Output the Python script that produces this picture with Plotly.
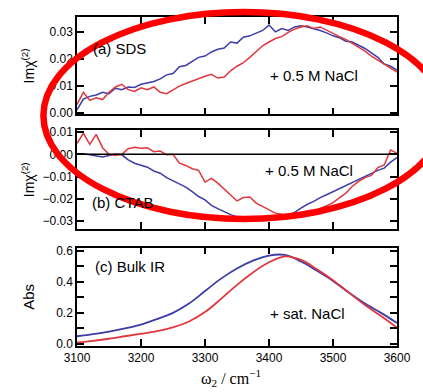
import plotly.graph_objects as go

x10 = list(range(3100, 3601, 10))
x25 = list(range(3100, 3601, 25))

sds_blue = [0.001, 0.005, 0.006, 0.0065, 0.0075, 0.007, 0.009, 0.0085, 0.0095, 0.0093,
            0.0105, 0.011, 0.0115, 0.0125, 0.014, 0.0145, 0.017, 0.0175, 0.019, 0.0205,
            0.021, 0.0225, 0.0235, 0.024, 0.0262, 0.0258, 0.028, 0.0285, 0.0295, 0.0305,
            0.0325, 0.0300, 0.0312, 0.0305, 0.0318, 0.0322, 0.0318, 0.0312, 0.0305, 0.0296,
            0.0285, 0.0278, 0.0265, 0.0262, 0.0250, 0.0238, 0.0222, 0.0205, 0.018, 0.0172,
            0.0158]
sds_red = [0.003, 0.0075, 0.0045, 0.0055, 0.0048, 0.0075, 0.0095, 0.0105, 0.0085, 0.0078,
           0.0092, 0.0085, 0.0095, 0.0075, 0.007, 0.0085, 0.0098, 0.0108, 0.0118, 0.0128,
           0.0135, 0.0142, 0.0128, 0.0132, 0.0155, 0.0172, 0.0185, 0.0205, 0.0225, 0.0248,
           0.0262, 0.0275, 0.0282, 0.0298, 0.0310, 0.0318, 0.0322, 0.0312, 0.0318, 0.0305,
           0.0295, 0.0282, 0.0272, 0.0258, 0.0242, 0.0228, 0.021, 0.0195, 0.018, 0.0165,
           0.0150]
ctab_blue = [0.0, 0.0003, -0.0002, -0.0008, -0.0012, -0.0005, 0.0002, -0.0002, -0.0025, -0.004,
             -0.0048, -0.0058, -0.0075, -0.0085, -0.0105, -0.012, -0.0135, -0.0148, -0.0168, -0.019,
             -0.0205, -0.023, -0.0245, -0.026, -0.0272, -0.0282, -0.0288, -0.029, -0.0285, -0.029,
             -0.0292, -0.029, -0.0288, -0.0278, -0.0262, -0.0242, -0.0225, -0.0212, -0.0195, -0.0182,
             -0.0168, -0.0155, -0.0142, -0.0125, -0.0112, -0.0098, -0.0085, -0.0072, -0.0062, -0.0035,
             -0.0015]
ctab_red = [0.005, 0.0095, 0.0045, 0.009, 0.003, 0.0, -0.0005, 0.0, 0.0025, 0.0032,
            0.0028, 0.003, 0.0012, 0.0015, -0.0002, 0.0, -0.004, -0.005, -0.0065, -0.0072,
            -0.0125, -0.0108, -0.013, -0.0158, -0.0185, -0.021, -0.0195, -0.0192, -0.022, -0.0235,
            -0.025, -0.0265, -0.027, -0.0278, -0.028, -0.0272, -0.027, -0.0258, -0.0245, -0.0232,
            -0.0218, -0.0198, -0.0175, -0.0145, -0.0122, -0.0105, -0.0095, -0.006, -0.0048, 0.002,
            0.0005]
ir_blue = [0.05, 0.063, 0.08, 0.10, 0.125, 0.16, 0.20, 0.26, 0.34, 0.42, 0.485,
           0.535, 0.568, 0.572, 0.53, 0.47, 0.405, 0.33, 0.26, 0.2, 0.135]
ir_red = [0.01, 0.021, 0.034, 0.05, 0.066, 0.083, 0.107, 0.145, 0.205, 0.29, 0.38,
          0.46, 0.525, 0.563, 0.54, 0.48, 0.41, 0.33, 0.25, 0.18, 0.105]

BLUE = "#3c3ca8"
RED = "#e0363c"
FONT = "Liberation Sans"

fig = go.Figure()
fig.add_trace(go.Scatter(x=x10, y=sds_blue, mode="lines", line=dict(color=BLUE, width=1.5), xaxis="x", yaxis="y"))
fig.add_trace(go.Scatter(x=x10, y=sds_red, mode="lines", line=dict(color=RED, width=1.5), xaxis="x", yaxis="y"))
fig.add_trace(go.Scatter(x=x10, y=ctab_blue, mode="lines", line=dict(color=BLUE, width=1.5), xaxis="x2", yaxis="y2"))
fig.add_trace(go.Scatter(x=x10, y=ctab_red, mode="lines", line=dict(color=RED, width=1.5), xaxis="x2", yaxis="y2"))
fig.add_trace(go.Scatter(x=x25, y=ir_blue, mode="lines", line=dict(color=BLUE, width=1.8, shape="spline"), xaxis="x3", yaxis="y3"))
fig.add_trace(go.Scatter(x=x25, y=ir_red, mode="lines", line=dict(color=RED, width=1.8, shape="spline"), xaxis="x3", yaxis="y3"))

axcommon = dict(showline=True, linecolor="black", linewidth=1.5, mirror="ticks", ticks="inside",
                ticklen=7, tickwidth=1.5, tickcolor="black", showgrid=False, zeroline=False,
                tickfont=dict(family=FONT, size=12, color="black"))

xcommon = dict(axcommon, range=[3100, 3600], tickmode="array", tickvals=[3100, 3200, 3300, 3400, 3500, 3600])

fig.update_layout(
    width=423, height=392, showlegend=False,
    paper_bgcolor="white", plot_bgcolor="white",
    margin=dict(l=77, r=14, t=12, b=46),
    xaxis=dict(xcommon, domain=[0, 1], anchor="y", showticklabels=False),
    xaxis2=dict(xcommon, domain=[0, 1], anchor="y2", showticklabels=False),
    xaxis3=dict(xcommon, domain=[0, 1], anchor="y3", ticktext=["3100", "3200", "3300", "3400", "3500", "3600"]),
    yaxis=dict(axcommon, domain=[0.704, 1.0], range=[-0.0007, 0.0355], tickvals=[0.0, 0.01, 0.02, 0.03],
               ticktext=["0.00", "0.01", "0.02", "0.03"]),
    yaxis2=dict(axcommon, domain=[0.356, 0.656], range=[-0.0336, 0.0109],
                tickvals=[-0.03, -0.02, -0.01, 0.0, 0.01],
                ticktext=["\u22120.03", "\u22120.02", "\u22120.01", "0.00", "0.01"]),
    yaxis3=dict(axcommon, domain=[0.0, 0.299], range=[-0.0126, 0.619],
                tickvals=[0.0, 0.2, 0.4, 0.6], ticktext=["0.0", "0.2", "0.4", "0.6"],
                minor=dict(tickvals=[0.1, 0.3, 0.5], ticks="inside", ticklen=7, tickwidth=1.5, tickcolor="black")),
)

# zero line in panel b
fig.add_shape(type="line", xref="x2 domain", yref="y2", x0=0, x1=1, y0=0, y1=0,
              line=dict(color="black", width=1.5))

ann_font = dict(family=FONT, size=15, color="black")
anns = [
    dict(text="(a) SDS", xref="x domain", yref="y domain", x=0.045, y=0.68, xanchor="left", yanchor="middle", font=ann_font),
    dict(text="+ 0.5 M NaCl", xref="x domain", yref="y domain", x=0.74, y=0.40, xanchor="center", yanchor="middle", font=ann_font),
    dict(text="(b) CTAB", xref="x2 domain", yref="y2 domain", x=0.04, y=0.27, xanchor="left", yanchor="middle", font=ann_font),
    dict(text="+ 0.5 M NaCl", xref="x2 domain", yref="y2 domain", x=0.725, y=0.59, xanchor="center", yanchor="middle", font=ann_font),
    dict(text="(c) Bulk IR", xref="x3 domain", yref="y3 domain", x=0.05, y=0.81, xanchor="left", yanchor="middle", font=ann_font),
    dict(text="+ sat. NaCl", xref="x3 domain", yref="y3 domain", x=0.72, y=0.33, xanchor="center", yanchor="middle", font=ann_font),
    dict(text="Imχ<sup>(2)</sup>", xref="paper", yref="y domain", x=-0.154, y=0.5, textangle=-90,
         xanchor="center", yanchor="middle", font=dict(family=FONT, size=14, color="black")),
    dict(text="Imχ<sup>(2)</sup>", xref="paper", yref="y2 domain", x=-0.154, y=0.5, textangle=-90,
         xanchor="center", yanchor="middle", font=dict(family=FONT, size=14, color="black")),
    dict(text="Abs", xref="paper", yref="y3 domain", x=-0.15, y=0.5, textangle=-90,
         xanchor="center", yanchor="middle", font=dict(family=FONT, size=15, color="black")),
    dict(text="ω<sub>2</sub> / cm<sup>−1</sup>", xref="paper", yref="paper", x=0.48, y=-0.098,
         xanchor="center", yanchor="middle", font=dict(family="Liberation Serif", size=16, color="black")),
]
for a in anns:
    fig.add_annotation(showarrow=False, **a)

# red ellipse overlay
fig.add_shape(type="circle", xref="paper", yref="paper", x0=-0.105, x1=1.148, y0=0.386, y1=1.015,
              line=dict(color="#ff0000", width=6.5), layer="above")

fig.write_html("out.html")
